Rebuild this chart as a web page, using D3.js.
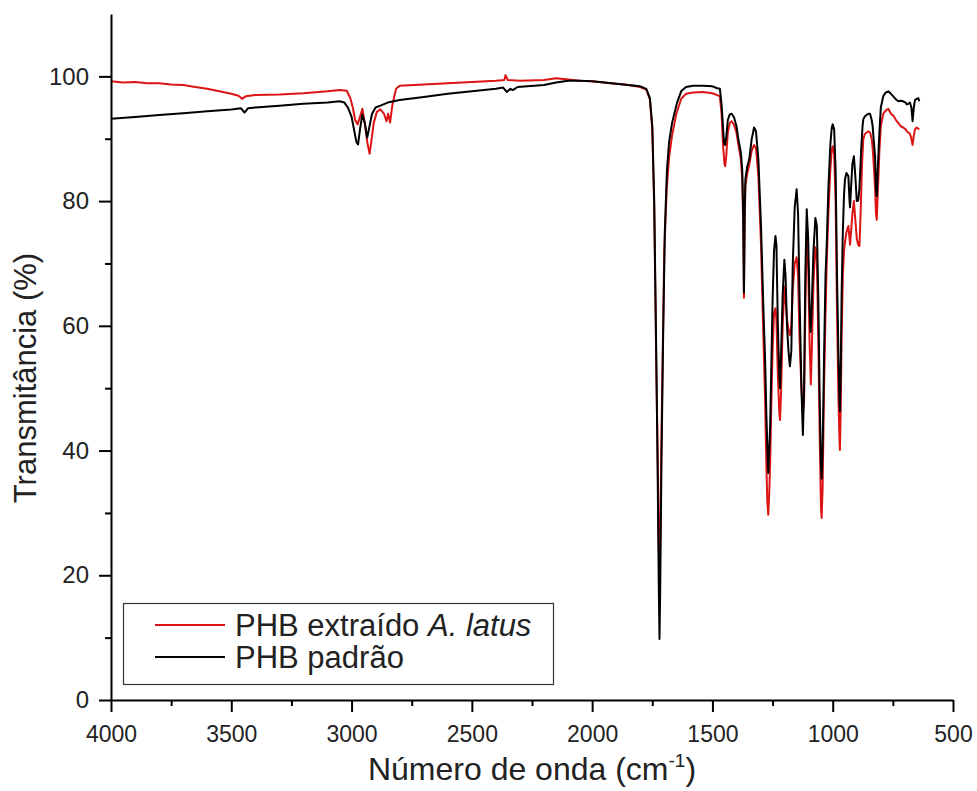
<!DOCTYPE html>
<html>
<head>
<meta charset="utf-8">
<script src="https://cdn.jsdelivr.net/npm/d3@7"></script>
<style>
  html, body { margin: 0; padding: 0; background: #fff; }
  svg { display: block; font-family: "Liberation Sans", Arial, sans-serif; }
</style>
</head>
<body>
<svg id="chart" width="977" height="791"></svg>
<script>
// ---------- data ----------
const xTicks = [4000, 3500, 3000, 2500, 2000, 1500, 1000, 500];
const xMinorTicks = [3750, 3250, 2750, 2250, 1750, 1250, 750];
const yTicks = [0, 20, 40, 60, 80, 100];
const yMinorTicks = [10, 30, 50, 70, 90];

const seriesNames = ["PHB extraído ", "PHB padrão"];

// PHB extraído A. latus (red)
const redWn = [4000,3950,3900,3850,3800,3750,3700,3650,3600,3550,3500,3470,3455,3440,3400,3300,3200,3100,3050,3020,3005,2995,2985,2975,2965,2955,2945,2935,2925,2918,2908,2895,2880,2865,2855,2848,2840,2830,2815,2800,2700,2600,2500,2400,2365,2360,2350,2300,2200,2150,2100,2050,2000,1950,1900,1850,1800,1775,1760,1750,1742,1735,1728,1723,1720,1717,1712,1705,1700,1690,1680,1668,1650,1630,1610,1580,1540,1500,1480,1469,1462,1456,1450,1447,1443,1436,1428,1420,1410,1400,1392,1382,1376,1372,1369,1366,1363,1355,1347,1337,1327,1319,1309,1298,1288,1281,1276,1272,1268,1264,1260,1256,1250,1244,1238,1234,1228,1222,1219,1215,1208,1201,1196,1190,1184,1178,1172,1166,1158,1150,1144,1138,1130,1124,1119,1114,1108,1102,1096,1091,1087,1080,1072,1066,1060,1054,1049,1046,1042,1036,1030,1025,1018,1010,1004,1000,994,988,982,976,972,970,967,963,958,953,949,943,935,930,928,924,918,912,906,900,894,889,884,878,873,866,859,852,845,838,834,828,824,820,817,813,806,800,790,780,769,758,748,737,727,717,707,697,692,686,679,673,668,663,658,651,644,640];
const redT = [99.2,99.0,99.1,98.9,98.9,98.7,98.6,98.3,98.0,97.6,97.2,96.9,96.4,96.8,97.0,97.1,97.3,97.6,97.8,97.7,96.5,95.0,93.0,92.3,93.5,94.8,92.5,89.5,87.6,89.5,92.5,94.3,94.7,94.0,92.8,94.0,92.6,95.5,98.0,98.5,98.7,98.9,99.1,99.3,99.4,100.2,99.4,99.3,99.4,99.7,99.5,99.3,99.2,99.0,98.8,98.6,98.3,97.9,96.3,91.5,79,58,40,25,19.5,26,42,60,72,82,87,90.5,94,96.4,97.2,97.4,97.5,97.3,97.0,96.8,94,89,86,85.6,87,91,92.5,92.8,92.2,91,89,86.8,83.5,76,64.5,76,82.5,84.5,85.8,88,89,88.5,84,73,58,48,38,32,29.7,33,38,46,56,62,62.8,61,52,46,44.9,49,60,66.3,64,61,59.5,58.5,60,66,70,71,68,58,50,46,48,62,75,70,57,50.6,56,67,72.6,71,58,42,31,29.2,34,50,62,70,78,85,88.3,88.8,87.5,80,62,48,42,40.1,46,58,68,72,73.4,75,76,74,73,75,78,80,77,74,73,72.8,78,86,89.9,90.8,91,91.2,91,90,88.5,85,82,78,77.0,81,88,92,94.0,94.5,94.8,94.0,93.7,93.0,92.5,92.0,91.8,91.5,91.2,91.0,90.8,90.0,89.0,90.5,91.5,91.8,91.6,91.5];

// PHB padrão (black)
const blackWn = [4000,3900,3800,3700,3600,3500,3460,3445,3430,3400,3300,3200,3100,3050,3030,3015,3000,2990,2980,2973,2965,2955,2945,2935,2928,2915,2900,2880,2850,2800,2700,2600,2500,2400,2370,2355,2340,2330,2310,2200,2150,2100,2050,2000,1950,1900,1850,1800,1775,1760,1750,1742,1735,1728,1723,1720,1717,1712,1705,1698,1689,1680,1668,1647,1630,1610,1580,1540,1500,1480,1469,1462,1457,1452,1448,1443,1436,1428,1420,1410,1400,1392,1382,1376,1372,1369,1366,1363,1355,1347,1337,1327,1319,1309,1298,1288,1281,1276,1272,1268,1264,1260,1256,1250,1244,1238,1234,1228,1222,1219,1215,1208,1201,1196,1190,1184,1178,1172,1166,1158,1150,1144,1138,1130,1124,1119,1114,1108,1102,1096,1092,1088,1080,1072,1066,1060,1054,1049,1046,1042,1036,1030,1025,1018,1010,1004,1000,994,988,982,976,972,970,967,963,958,953,949,943,935,930,928,924,918,912,906,900,894,889,882,876,873,866,859,852,845,838,834,828,824,820,817,813,806,800,790,780,769,758,748,737,727,717,707,697,692,686,679,673,668,663,658,651,644,640];
const blackT = [93.2,93.5,93.8,94.1,94.4,94.7,94.9,94.2,94.9,95.0,95.3,95.6,95.8,96.0,95.8,95.0,93.5,91.5,89.5,89.1,91.5,93.9,92.5,90.2,91.5,94.0,95.0,95.3,95.8,96.2,96.7,97.2,97.6,98.0,98.2,97.5,98.0,97.8,98.3,98.6,99.0,99.3,99.3,99.2,99.0,98.8,98.6,98.4,98.0,96.5,92,80,60,38,18,9.8,18,38,58,75,85,89.5,92.5,95.8,97.6,98.3,98.5,98.5,98.4,98.1,98.0,95.5,92.5,89.5,89.0,90.0,93.0,93.9,94.0,93.4,92.0,89.9,87.8,85.0,78,65.3,78,83.5,85.6,86.7,89.9,91.8,91.2,86.7,76.0,62.6,54.6,46,41,36.4,40,44,52,64,72,74.4,73,60,52,50,55,65,70.6,68,60,56,53.5,56,70,79,81.9,78,65,50,42.5,50,68,78.7,74,63,59,62,72,77.3,76,65,48,38,35.5,40,55,68,73,82,89,91.8,92.3,91.5,85,68,55,48,46.3,52,65,75,81,83.5,84.5,84.0,80,79,82,86,87.2,84,80,80.1,82,88,92,93.1,93.6,93.8,94,94,93.0,92,89,87.2,82,80.8,85,91,95,96.8,97.4,97.6,97.2,96.8,96.3,96.0,96.1,96.0,95.8,95.5,95.6,95.8,95.0,92.8,95.0,96.2,96.4,96.5,96.0];

// ---------- layout ----------
const svg = d3.select("#chart");
const plotLeft = 111, plotRight = 953, plotTop = 14, plotBottom = 700;
const x = d3.scaleLinear().domain([4000, 500]).range([plotLeft, plotRight]);
const y = d3.scaleLinear().domain([0, 110]).range([plotBottom, plotTop]);
const textColor = "#222";
const redColor = "#dc1414";

// lines
const line = d3.line().x(d => x(d[0])).y(d => y(d[1]));
const redData = redWn.map((w, i) => [w, redT[i]]);
const blackData = blackWn.map((w, i) => [w, blackT[i]]);

svg.append("path").datum(redData)
  .attr("d", line).attr("fill", "none")
  .attr("stroke", redColor).attr("stroke-width", 2).attr("stroke-linejoin", "round");
svg.append("path").datum(blackData)
  .attr("d", line).attr("fill", "none")
  .attr("stroke", "#000").attr("stroke-width", 2).attr("stroke-linejoin", "round");

// axes
const xAxis = svg.append("g").attr("transform", `translate(0,${plotBottom})`)
  .call(d3.axisBottom(x).tickValues(xTicks).tickSize(12).tickSizeOuter(0).tickPadding(14).tickFormat(d3.format("d")));
const xMinor = svg.append("g").attr("transform", `translate(0,${plotBottom})`)
  .call(d3.axisBottom(x).tickValues(xMinorTicks).tickSize(6).tickSizeOuter(0).tickFormat(""));
xMinor.select(".domain").remove();

const yAxis = svg.append("g").attr("transform", `translate(${plotLeft},0)`)
  .call(d3.axisLeft(y).tickValues(yTicks).tickSize(12).tickSizeOuter(0).tickPadding(10));
const yMinor = svg.append("g").attr("transform", `translate(${plotLeft},0)`)
  .call(d3.axisLeft(y).tickValues(yMinorTicks).tickSize(6).tickSizeOuter(0).tickFormat(""));
yMinor.select(".domain").remove();

svg.selectAll(".domain").attr("stroke", "#000").attr("stroke-width", 2);
svg.selectAll(".tick line").attr("stroke", "#000").attr("stroke-width", 2);
xAxis.selectAll(".tick text").attr("font-size", 23).attr("fill", textColor)
  .attr("font-family", "Liberation Sans, Arial, sans-serif");
yAxis.selectAll(".tick text").attr("font-size", 24).attr("fill", textColor)
  .attr("font-family", "Liberation Sans, Arial, sans-serif");

// axis titles
const xt = svg.append("text").attr("x", (plotLeft + plotRight) / 2).attr("y", 780)
  .attr("text-anchor", "middle").attr("font-size", 32).attr("fill", textColor);
xt.append("tspan").text("Número de onda (cm");
xt.append("tspan").attr("font-size", 19).attr("dy", -13).text("-1");
xt.append("tspan").attr("dy", 13).text(")");

svg.append("text").attr("transform", "translate(36,378) rotate(-90)")
  .attr("text-anchor", "middle").attr("font-size", 31).attr("fill", textColor)
  .text("Transmitância (%)");

// legend
const lg = svg.append("g");
lg.append("rect").attr("x", 123.5).attr("y", 603.5).attr("width", 430).attr("height", 81)
  .attr("fill", "#fff").attr("stroke", "#333").attr("stroke-width", 1.2);
const legendItems = [
  { color: redColor, y: 625, base: 636 },
  { color: "#000", y: 657, base: 668 }
];
legendItems.forEach((it, i) => {
  lg.append("line").attr("x1", 155).attr("x2", 225).attr("y1", it.y).attr("y2", it.y)
    .attr("stroke", it.color).attr("stroke-width", 2);
  const t = lg.append("text").attr("x", 235).attr("y", it.base)
    .attr("font-size", 31).attr("fill", textColor);
  t.append("tspan").text(seriesNames[i]);
  if (i === 0) t.append("tspan").attr("font-style", "italic").text("A. latus");
});
</script>
</body>
</html>
